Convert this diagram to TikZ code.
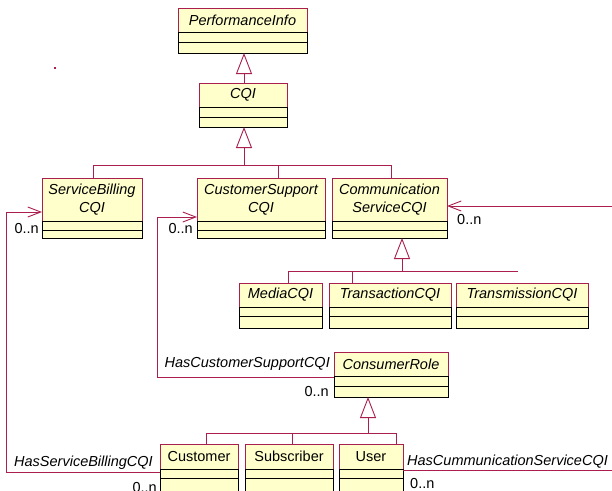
\documentclass[tikz,border=0pt]{standalone}
\usepackage{fontspec}
\setmainfont{Liberation Sans}
\usetikzlibrary{arrows.meta}
\definecolor{umlred}{RGB}{170,30,80}
\definecolor{umlfill}{RGB}{255,255,204}
\tikzset{
  txt/.style={font=\fontsize{14.5}{18}\selectfont},
  clsbox/.style={draw=umlred, fill=umlfill, line width=0.9pt, inner sep=0pt, outer sep=0pt, rectangle},
  cmpline/.style={draw=black, line width=0.9pt},
  clsname/.style={txt, align=center, inner sep=0pt, font=\fontsize{14.5}{18}\selectfont\itshape},
  conn/.style={draw=umlred, line width=0.9pt},
  gen/.style={conn, -{Triangle[open, length=21pt, width=16pt]}},
  nav/.style={conn, -{Straight Barb[length=13pt, width=10pt]}},
  lbl/.style={txt, inner sep=0pt},
  ilbl/.style={lbl, font=\fontsize{14.5}{18}\selectfont\itshape}
}
\newcommand{\umlcls}[8]{%
  \node[clsbox, anchor=north west, minimum width={(#4-#2)*1pt}, minimum height={(#5-#3)*1pt}] (#1) at (#2,#3) {};
  \draw[cmpline] (#2,#6) rectangle (#4,#5);
  \draw[cmpline] (#2,#7) -- (#4,#7);
  \node[clsname] (#1-t) at ({(#2+#4)/2},{(#3+#6)/2}) {#8};
}
\begin{document}
\begin{tikzpicture}[x=1pt,y=-1pt]
\useasboundingbox (0,0) rectangle (612,490);
\clip (0,0) rectangle (612,490);
\fill[white] (0,0) rectangle (612,490);

% classes
\umlcls{perf}{178}{8}{307}{53}{32}{42}{PerformanceInfo}
\umlcls{cqi}{199}{83}{287}{127}{107}{117}{CQI}
\umlcls{sbc}{42}{178}{142}{238}{221}{230}{ServiceBilling\\CQI}
\umlcls{csc}{197}{178}{325}{238}{221}{230}{CustomerSupport\\CQI}
\umlcls{comm}{332}{178}{447}{238}{221}{230}{Communication\\ServiceCQI}
\umlcls{media}{239}{283}{322}{328}{307}{316}{MediaCQI}
\umlcls{trans}{329}{283}{451}{328}{307}{316}{TransactionCQI}
\umlcls{transm}{456}{283}{588}{328}{307}{316}{TransmissionCQI}
\umlcls{cr}{334}{352}{448}{397}{376}{386}{ConsumerRole}
\umlcls{cust}{160}{444}{238}{491}{469}{478}{\upshape Customer}
\umlcls{subs}{245}{444}{333}{491}{469}{478}{\upshape Subscriber}
\umlcls{user}{339}{444}{403}{491}{469}{478}{\upshape User}

% generalization: PerformanceInfo <- CQI
\coordinate (bus1) at (244,165);
\draw[gen] (cqi.north -| bus1) -- (perf.south -| bus1);
\draw[gen] (bus1) -- (bus1 |- cqi.south);
\draw[conn] ([xshift=1pt]sbc.north) |- (bus1);
\draw[conn] ([xshift=17pt]csc.north) |- (bus1);
\draw[conn] ([xshift=1.5pt]comm.north) |- (bus1);

% generalization: CommunicationServiceCQI
\coordinate (bus2) at (402,271);
\coordinate (bus2e) at (518,271);
\draw[gen] (bus2) -- (bus2 |- comm.south);
\draw[conn] (bus2) -- (bus2e);
\draw[conn] ([xshift=7.5pt]media.north) |- (bus2);
\draw[conn] ([xshift=-38pt]trans.north) |- (bus2);

% generalization: ConsumerRole
\coordinate (bus3) at (368,433);
\draw[gen] (bus3) -- (bus3 |- cr.south);
\draw[conn] ([xshift=7pt]cust.north) |- (bus3);
\draw[conn] ([xshift=3pt]subs.north) |- (bus3);
\draw[conn] ([xshift=25pt]user.north) |- (bus3);

% associations
\coordinate (lc1) at (6,212);
\coordinate (lc2) at (6,472);
\draw[nav] (cust.west |- lc2) -- (lc2) -- (lc1) -- (sbc.west |- lc1);
\coordinate (mc1) at (157,217);
\coordinate (mc2) at (157,377);
\draw[nav] (cr.west |- mc2) -- (mc2) -- (mc1) -- (csc.west |- mc1);
\coordinate (rc1) at (616,470);
\coordinate (rc2) at (616,206);
\draw[nav] (user.east |- rc1) -- (rc1) -- (rc2) -- (comm.east |- rc2);

% labels
\node[ilbl, anchor=base east] (l1) at (330,367) {HasCustomerSupportCQI};
\node[lbl, anchor=base east] (m1) at (329,396) {0..n};
\node[ilbl, anchor=base east] (l2) at (153,466) {HasServiceBillingCQI};
\node[lbl, anchor=base east] (m2) at (157,492) {0..n};
\node[ilbl, anchor=base west] (l3) at (407,465) {HasCummunicationServiceCQI};
\node[lbl, anchor=base west] (m3) at (410,488) {0..n};
\node[lbl, anchor=base west] (m4) at (457,224) {0..n};
\node[lbl, anchor=base east] (m5) at (39,233) {0..n};
\node[lbl, anchor=base east] (m6) at (193,233) {0..n};

% stray mark
\fill[umlred] (54,67) rectangle (56,69);
\end{tikzpicture}
\end{document}
